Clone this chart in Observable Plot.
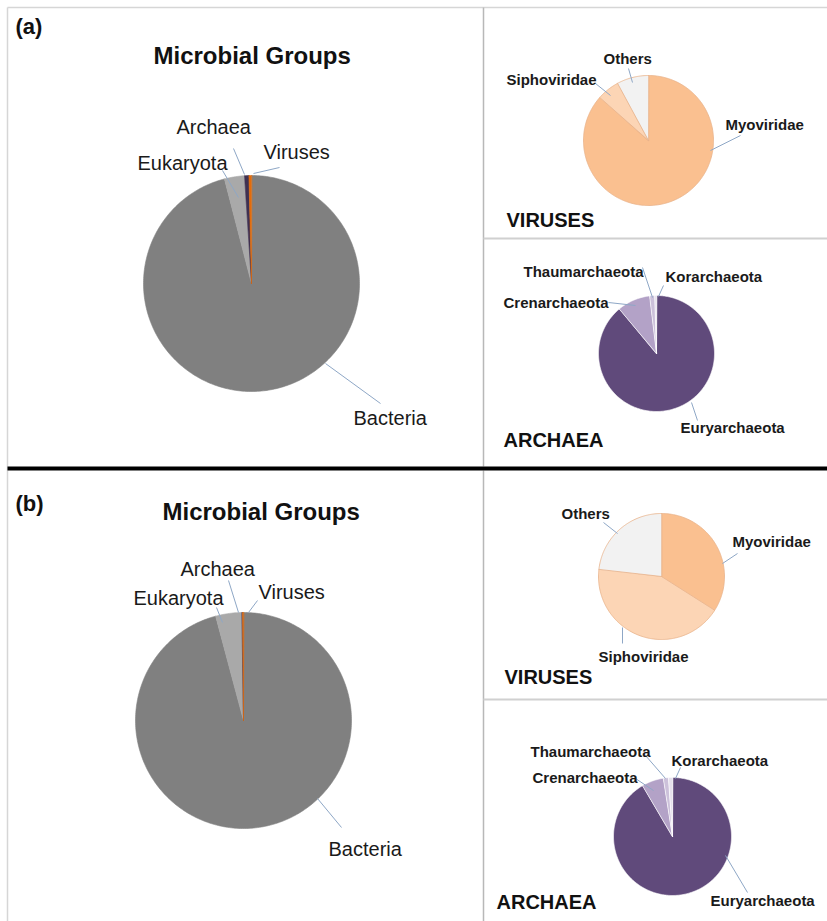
<!DOCTYPE html>
<html>
<head>
<meta charset="utf-8">
<script src="https://cdn.jsdelivr.net/npm/d3@7"></script>
<script src="https://cdn.jsdelivr.net/npm/@observablehq/plot@0.6"></script>
<style>
  html, body { margin: 0; padding: 0; background: #ffffff; }
  #chart svg { display: block; }
</style>
</head>
<body>
<div id="chart"></div>
<script>
// ---------------- DATA (percent shares) ----------------
const groupNames   = ["Bacteria", "Eukaryota", "Archaea", "Viruses"];
const groupsA      = [95.97, 3.0, 0.65, 0.38];
const groupsB      = [95.85, 3.9, 0.10, 0.15];

const virusNames   = ["Myoviridae", "Siphoviridae", "Others"];
const virusesA     = [86.5, 5.6, 7.9];
const virusesB     = [34.0, 42.8, 23.2];

const archaeaNames = ["Euryarchaeota", "Crenarchaeota", "Thaumarchaeota", "Korarchaeota"];
const archaeaA     = [88.9, 9.2, 1.4, 0.5];
const archaeaB     = [91.5, 6.0, 1.4, 1.1];

const panelTags    = ["(a)", "(b)"];
const mainTitle    = "Microbial Groups";
const virusTitle   = "VIRUSES";
const archaeaTitle = "ARCHAEA";

// ---------------- STYLES ----------------
const groupColors   = ["#808080", "#a9a9a9", "#3f3151", "#e46c0a"];
const virusColors   = ["#fac090", "#fcd5b5", "#f2f2f2"];
const archaeaColors = ["#604a7b", "#b3a2c7", "#ccc1da", "#e5e0ec"];
const leaderColor   = "#8ea7c6";
const font = "'Liberation Sans', Arial, Helvetica, sans-serif";

// ---------------- LAYOUT ----------------
const W = 827, H = 921;
const pies = [
  {id: "mA", names: groupNames,   values: groupsA,   colors: groupColors,   cx: 251, cy: 283, r: 108, stroke: null,      sw: 0.6},
  {id: "mB", names: groupNames,   values: groupsB,   colors: groupColors,   cx: 243, cy: 720, r: 108, stroke: null,      sw: 0.6},
  {id: "vA", names: virusNames,   values: virusesA,  colors: virusColors,   cx: 648, cy: 140, r: 65,  stroke: "#e8b28a", sw: 0.8},
  {id: "vB", names: virusNames,   values: virusesB,  colors: virusColors,   cx: 661, cy: 576, r: 63,  stroke: "#e8b28a", sw: 0.8},
  {id: "aA", names: archaeaNames, values: archaeaA,  colors: archaeaColors, cx: 656, cy: 353, r: 58,  stroke: "#ffffff", sw: 0.6},
  {id: "aB", names: archaeaNames, values: archaeaB,  colors: archaeaColors, cx: 672, cy: 836, r: 59,  stroke: "#ffffff", sw: 0.6}
];

// label placement per pie, keyed by slice name (x = left edge, y = baseline)
const labelPos = {
  mA: {Archaea: [176, 133], Eukaryota: [137, 169], Viruses: [263, 158], Bacteria: [353, 424]},
  mB: {Archaea: [180, 575], Eukaryota: [133, 604], Viruses: [258, 598], Bacteria: [328, 855]},
  vA: {Others: [603, 63], Siphoviridae: [506, 84], Myoviridae: [725, 129]},
  vB: {Others: [561, 518], Myoviridae: [732, 546], Siphoviridae: [598, 661]},
  aA: {Thaumarchaeota: [523, 276], Korarchaeota: [665, 281], Crenarchaeota: [503, 307], Euryarchaeota: [680, 432]},
  aB: {Thaumarchaeota: [530, 756], Korarchaeota: [671, 765], Crenarchaeota: [532, 782], Euryarchaeota: [710, 905]}
};
const leaderPos = {
  mA: {Eukaryota: [222, 170, 238, 197], Archaea: [233, 148, 244, 174], Viruses: [279, 167, 253, 173], Bacteria: [380, 403, 325, 363]},
  mB: {Eukaryota: [216, 607, 222, 622], Archaea: [228, 580, 238, 612], Viruses: [257, 600, 248, 612], Bacteria: [341, 827, 317, 798]},
  vA: {Others: [628, 68, 632, 82], Siphoviridae: [595, 83, 610, 95], Myoviridae: [740, 135, 710, 150]},
  vB: {Others: [603, 522, 617, 533], Myoviridae: [737, 553, 722, 563], Siphoviridae: [622, 643, 622, 627]},
  aA: {Thaumarchaeota: [642, 267, 652, 297], Korarchaeota: [663, 285, 658, 296], Crenarchaeota: [608, 302, 635, 305], Euryarchaeota: [697, 420, 691, 402]},
  aB: {Thaumarchaeota: [645, 755, 665, 778], Korarchaeota: [680, 767, 675, 778], Crenarchaeota: [635, 778, 653, 790], Euryarchaeota: [747, 892, 725, 855]}
};
const mainLabelSize = 20, smallLabelSize = 15;

const titles = [
  {text: panelTags[0], x: 15,  y: 33,  size: 22},
  {text: panelTags[1], x: 15,  y: 510, size: 22},
  {text: mainTitle,    x: 153, y: 63,  size: 24},
  {text: mainTitle,    x: 162, y: 519, size: 24},
  {text: virusTitle,   x: 506, y: 226, size: 20},
  {text: virusTitle,   x: 504, y: 683, size: 20},
  {text: archaeaTitle, x: 503, y: 446, size: 20},
  {text: archaeaTitle, x: 496, y: 908, size: 20}
];

const frames = [
  {x1: 7,   y1: 7,   x2: W,   y2: 7,   stroke: "#d6d6d6", w: 1.5},
  {x1: 7,   y1: 7,   x2: 7,   y2: H,   stroke: "#d6d6d6", w: 1.5},
  {x1: 483, y1: 7,   x2: 483, y2: 466, stroke: "#b8b8b8", w: 1.5},
  {x1: 483, y1: 470, x2: 483, y2: H,   stroke: "#b8b8b8", w: 1.5},
  {x1: 483, y1: 238, x2: W,   y2: 238, stroke: "#d0d0d0", w: 2},
  {x1: 483, y1: 699, x2: W,   y2: 699, stroke: "#d0d0d0", w: 2},
  {x1: 7,   y1: 468, x2: W,   y2: 468, stroke: "#000000", w: 4}
];

// ---------------- BUILD SLICE GEOMETRY FROM DATA ----------------
function slicePoints(p) {
  const arcs = d3.pie().sort(null).value(d => d)(p.values);
  const pts = [];
  arcs.forEach((a, i) => {
    const key = p.id + "-" + i;
    const fill = p.colors[i];
    const stroke = p.stroke || fill;
    pts.push({key, x: p.cx, y: p.cy, fill, stroke});
    const span = a.endAngle - a.startAngle;
    const n = Math.max(2, Math.ceil(span / (Math.PI / 180)));
    for (let k = 0; k <= n; k++) {
      const t = a.startAngle + span * k / n;
      pts.push({key, x: p.cx + p.r * Math.sin(t), y: p.cy - p.r * Math.cos(t), fill, stroke});
    }
  });
  return pts;
}

const sliceMarks = pies.map(p =>
  Plot.line(slicePoints(p), {
    x: "x", y: "y", z: "key", fill: "fill", stroke: "stroke",
    strokeWidth: p.sw, curve: "linear-closed", strokeLinejoin: "round"
  })
);

const mainLabels = [], smallLabels = [], leaders = [];
pies.forEach(p => {
  p.names.forEach(name => {
    const lp = labelPos[p.id][name];
    if (lp) {
      const row = {text: name, x: lp[0], y: lp[1]};
      (p.id[0] === "m" ? mainLabels : smallLabels).push(row);
    }
    const ld = leaderPos[p.id][name];
    if (ld) leaders.push({x1: ld[0], y1: ld[1], x2: ld[2], y2: ld[3]});
  });
});

const chart = Plot.plot({
  width: W, height: H,
  margin: 0,
  x: {domain: [0, W], range: [0, W], axis: null},
  y: {domain: [0, H], range: [0, H], axis: null},
  color: {type: "identity"},
  style: {fontFamily: font, background: "#ffffff", overflow: "visible"},
  marks: [
    ...sliceMarks,
    Plot.link(frames, {x1: "x1", y1: "y1", x2: "x2", y2: "y2", stroke: "stroke", strokeWidth: "w"}),
    Plot.link(leaders, {x1: "x1", y1: "y1", x2: "x2", y2: "y2", stroke: leaderColor, strokeWidth: 1}),
    Plot.text(mainLabels, {x: "x", y: "y", text: "text", textAnchor: "start", lineAnchor: "bottom",
      fontSize: mainLabelSize, fill: "#1a1a1a"}),
    Plot.text(smallLabels, {x: "x", y: "y", text: "text", textAnchor: "start", lineAnchor: "bottom",
      fontSize: smallLabelSize, fontWeight: "bold", fill: "#1a1a1a"}),
    Plot.text(titles, {x: "x", y: "y", text: "text", textAnchor: "start", lineAnchor: "bottom",
      fontSize: "size", fontWeight: "bold", fill: "#111111"})
  ]
});
document.getElementById("chart").appendChild(chart);
</script>
</body>
</html>
